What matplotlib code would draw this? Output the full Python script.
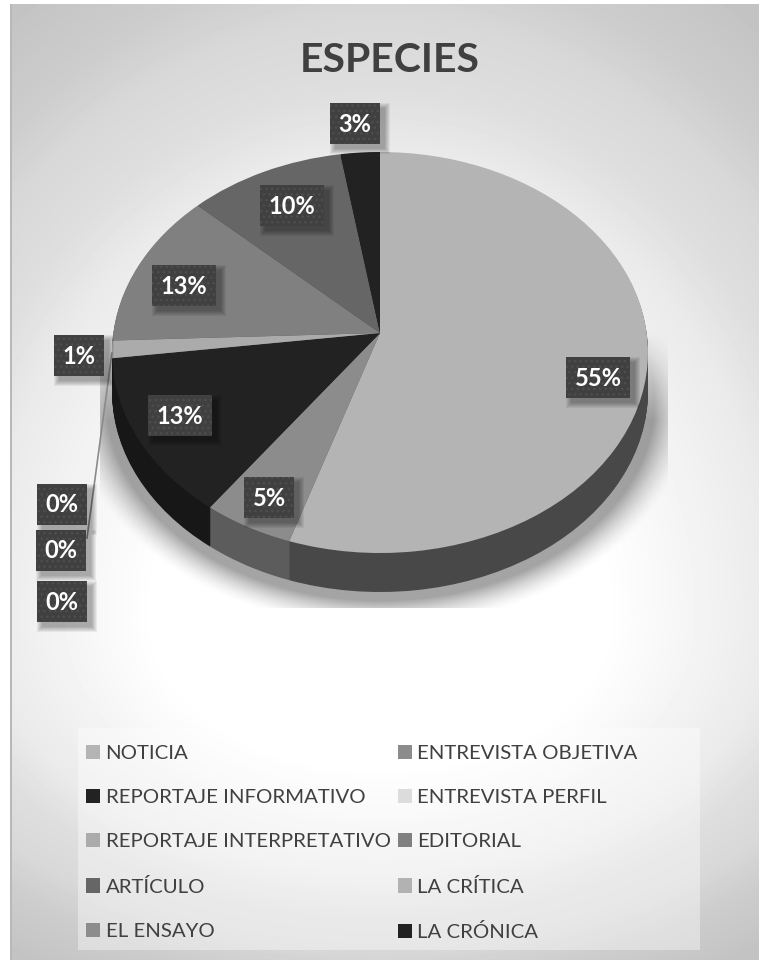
"""Tilted pie chart of article species, drawn in the pixel frame of the figure."""
import numpy as np
import matplotlib
matplotlib.use("Agg")
import matplotlib.pyplot as plt
from matplotlib.patches import Rectangle
from matplotlib.transforms import Affine2D, Transform

W, H = 759, 960

CATEGORIES = [
    "NOTICIA", "ENTREVISTA OBJETIVA", "REPORTAJE INFORMATIVO", "ENTREVISTA PERFIL",
    "REPORTAJE INTERPRETATIVO", "EDITORIAL", "ARTÍCULO", "LA CRÍTICA", "EL ENSAYO", "LA CRÓNICA",
]
VALUES = [55, 5, 13, 0, 1.4, 12.6, 10.4, 0, 0, 2.6]
FACE_COLORS = ["#b4b4b4", "#8c8c8c", "#222222", "#dcdcdc", "#ababab",
               "#808080", "#666666", "#b2b2b2", "#8c8c8c", "#222222"]
RIM_COLORS = ["#484848", "#5c5c5c", "#171717", "#999999", "#777777",
              "#565656", "#444444", "#777777", "#5c5c5c", "#171717"]
LABEL_TEXTS = ["55%", "5%", "13%", "0%", "0%", "0%", "1%", "13%", "10%", "3%"]

# label centres, pixels
LABEL_X = [598, 269, 180, 62, 61, 62, 79, 184, 292, 355]
LABEL_Y = [377, 497, 415, 504, 550, 601, 355, 285, 205, 123]

RIM_DEPTH = 39


class TiltTransform(Transform):
    """Projects the unit pie onto the tilted plane, result in pixels."""
    input_dims = 2
    output_dims = 2
    has_inverse = False

    def transform_non_affine(self, values):
        xy = np.asarray(values, dtype=float)
        w = 1 + 0.0973 * xy[:, 1]
        return np.column_stack([380 + 266.7 * xy[:, 0] / w, 333 - 198.6 * xy[:, 1] / w])


fig = plt.figure(figsize=(W / 100, H / 100), dpi=100, facecolor="white")
ax = fig.add_axes([0, 0, 1, 1])
ax.set_axis_off()

# panel background
yy, xx = np.mgrid[4:H, 10:W]
dy = yy - 620.0
t = np.sqrt(((xx - 380) / 520.0) ** 2 + (dy / np.where(dy < 0, 620.0, 340.0)) ** 2)
grey = np.interp(t, [0, 0.45, 0.76, 0.86, 0.97, 1.06, 1.21], [255, 254, 234, 222, 216, 205, 195]) / 255
ax.imshow(grey, cmap="gray", vmin=0, vmax=1, extent=(10, W, H, 4), zorder=0, interpolation="bilinear")

# soft shadow under the pie
yy, xx = np.mgrid[330:608, 100:668]
dist = (np.sqrt(((xx - 380) / 274.0) ** 2 + ((yy - 400) / 200.0) ** 2) - 1) * 230
shade = np.clip(1 - dist / 32, 0, 1) ** 1.6 * 0.36 * np.clip((yy - 330) / 90.0, 0, 1)
rgba = np.zeros(shade.shape + (4,))
rgba[..., 3] = shade
ax.imshow(rgba, extent=(100, 668, 608, 330), zorder=1, interpolation="bilinear")

ax.add_patch(Rectangle((10, 4), 2, H - 4, fc="#b8b8b8", ec="none", zorder=1))

# side wall, then top face
tilt = TiltTransform()
for depth in range(RIM_DEPTH, 0, -1):
    rim, _ = ax.pie(VALUES, colors=RIM_COLORS, startangle=90, counterclock=False,
                    wedgeprops={"linewidth": 0})
    for wedge in rim:
        wedge.set_transform(tilt + Affine2D().translate(0, depth) + ax.transData)
        wedge.set_zorder(2)

wedges, _ = ax.pie(VALUES, colors=FACE_COLORS, startangle=90, counterclock=False,
                   wedgeprops={"linewidth": 0})
for wedge in wedges:
    wedge.set_transform(tilt + ax.transData)
    wedge.set_zorder(3)

ax.set_aspect("auto")
ax.set_xlim(0, W)
ax.set_ylim(H, 0)

ax.plot([87, 112], [538, 353], color="#8a8a8a", lw=1.2, zorder=4)

# data labels
for text, cx, cy in zip(LABEL_TEXTS, LABEL_X, LABEL_Y):
    bw = 64 if len(text) > 2 else 50
    bh = 41
    x0, y0 = cx - bw / 2, cy - bh / 2
    for grow in (5, 4, 3, 2, 1, 0):
        ax.add_patch(Rectangle((x0 + 5 - grow, y0 + 5 - grow), bw + 2 * grow, bh + 2 * grow,
                               fc="black", ec="none", alpha=0.06, zorder=5))
    ax.add_patch(Rectangle((x0, y0), bw, bh, fc="#404040", ec="#4e4e4e", lw=0, hatch="...", zorder=6))
    ax.text(cx, cy + 1, text, color="white", fontsize=17, fontweight="bold", family="Lato",
            ha="center", va="center", zorder=7)

ax.text(390, 61, "ESPECIES", color="#404040", fontsize=29.5, fontweight="bold", family="Lato",
        ha="center", va="center", zorder=7)

# legend, row by row like the original
ax.add_patch(Rectangle((78, 728), 622, 222, fc="white", ec="none", alpha=0.38, zorder=1))
order = [0, 2, 4, 6, 8, 1, 3, 5, 7, 9]
legend = ax.legend([wedges[i] for i in order], [CATEGORIES[i] for i in order],
                   ncol=2, frameon=False, loc="upper left", bbox_to_anchor=(86, 744.5),
                   bbox_transform=ax.transData, borderaxespad=0, borderpad=0,
                   prop={"family": "Lato", "size": 14.7}, labelcolor="#404040",
                   handlelength=0.69, handleheight=0.69, handletextpad=0.27,
                   labelspacing=1.33, columnspacing=0.34)
legend.set_zorder(7)

fig.savefig("out.png", dpi=100)
